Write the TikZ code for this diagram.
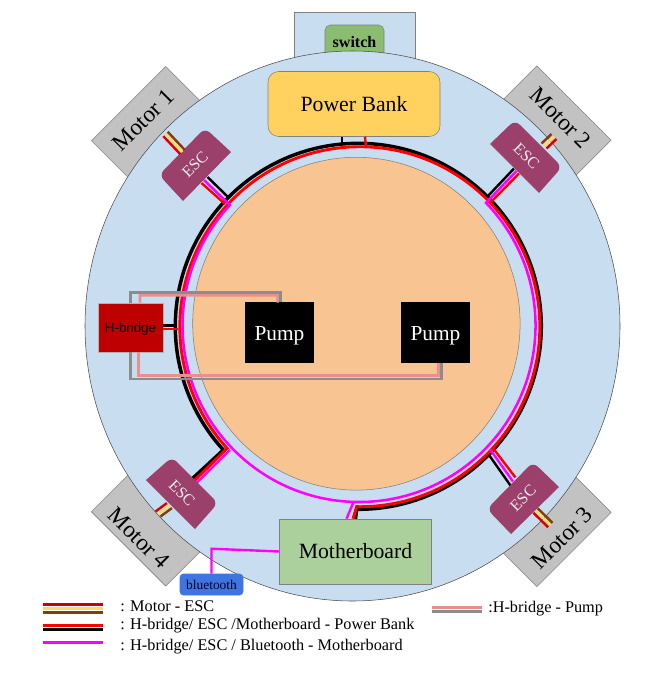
\documentclass[tikz,border=0pt]{standalone}
\usepackage{fontspec}
\setmainfont{Liberation Serif}
\newfontfamily\arialfont{Liberation Sans}
\definecolor{shell}{HTML}{C9DDF1}
\definecolor{peach}{HTML}{F8C491}
\definecolor{bankfill}{HTML}{FFD25F}
\definecolor{switchfill}{HTML}{8ABD70}
\definecolor{escfill}{HTML}{9A406B}
\definecolor{boardfill}{HTML}{ABD09C}
\definecolor{btfill}{HTML}{3E75E0}
\definecolor{wirebrown}{HTML}{7B3F10}
\definecolor{wireyellow}{HTML}{FFD966}
\definecolor{wirepink}{HTML}{E89090}
\definecolor{wiregray}{HTML}{8C8C8C}
\definecolor{magenta}{HTML}{FF00FF}
\tikzset{
    motorbox/.style={draw=gray, fill=black!24, minimum width=105*0.75pt, minimum height=52*0.75pt},
    motorlabel/.style={font=\fontsize{17.5}{20}\selectfont, inner sep=0pt},
    escbody/.style={draw=none, fill=escfill},
    esclabel/.style={font=\fontsize{12}{14}\selectfont, text=white!90!escfill, minimum width=66*0.75pt, minimum height=35*0.75pt, inner sep=0pt},
    part/.style={draw=gray, inner sep=0pt, font=\fontsize{16.3}{19}\selectfont},
    pumpbox/.style={fill=black, text=white, inner sep=0pt, minimum width=69*0.75pt, minimum height=61*0.75pt, font=\fontsize{16}{19}\selectfont},
    blackring/.style={draw=black, line width=2.6pt},
    redring/.style={draw=red, line width=2.2pt},
    blackwire/.style={draw=black, line width=1.8pt},
    redwire/.style={draw=red, line width=1.8pt},
    pinkwire/.style={draw=magenta, line width=1.8pt},
    hpink/.style={draw=wirepink, line width=1.9pt},
    hgray/.style={draw=wiregray, line width=1.9pt},
    legendlabel/.style={anchor=west, inner sep=0pt, font=\fontsize{12.2}{14}\selectfont},
}
% three leads of a motor: esc end, motor end, offset of the brown lead
\newcommand{\motorleads}[4]{
    \draw[draw=wirebrown, line width=1.8pt] ([shift={(#3,#4)}]#1) -- ([shift={(#3,#4)}]#2);
    \draw[draw=wireyellow, line width=1.8pt] (#1) -- (#2);
    \draw[draw=red!85!black, line width=1.8pt] ([shift={(-#3,-#4)}]#1) -- ([shift={(-#3,-#4)}]#2);
}
\begin{document}
\begin{tikzpicture}[x=0.75pt, y=-0.75pt]
    \useasboundingbox (0,0) rectangle (671,675);
    % switch housing
    \draw[draw=gray, fill=shell] (294,60) -- (294,12) -- (415,12) -- (415,60);
    \node[part, rounded corners=4pt, fill=switchfill, minimum width=59*0.75pt, minimum height=35*0.75pt, font=\fontsize{12}{14}\selectfont\bfseries] (switch) at (354.5,42.5) {switch};
    % motors
    \node[motorbox, rotate=45] (motor1) at (147,122) {};
    \node[motorbox, rotate=-45] (motor2) at (555.6,121.4) {};
    \node[motorbox, rotate=45] (motor3) at (555.6,531) {};
    \node[motorbox, rotate=-45] (motor4) at (147,530.6) {};
    \node[motorlabel, rotate=45] at (143.3,120) {Motor 1};
    \node[motorlabel, rotate=-45] at (560.7,118) {Motor 2};
    \node[motorlabel, rotate=45] at (562,538) {Motor 3};
    \node[motorlabel, rotate=-45] at (139,538) {Motor 4};
    % body
    \draw[draw=black!70, fill=shell] (352.5,326) ellipse [x radius=267.5, y radius=275];
    \draw[draw=gray, fill=peach] (356.4,323.7) ellipse [x radius=163.7, y radius=166.4];
    % parts
    \node[part, rounded corners=8pt, fill=bankfill, minimum width=172*0.75pt, minimum height=65*0.75pt] (bank) at (354,104) {Power Bank};
    \node[part, fill=boardfill, minimum width=152*0.75pt, minimum height=65*0.75pt] (board) at (355.5,551.5) {\raisebox{-5.6pt}[0pt][0pt]{Motherboard}};
    \node[draw=gray!60, fill=red!75!black, inner sep=0pt, minimum width=65*0.75pt, minimum height=49*0.75pt, font=\arialfont\fontsize{10}{12}\selectfont] (hbridge) at (130.5,327.5) {\raisebox{-4pt}[0pt][0pt]{H-bridge}};
    \node[part, rounded corners=2.5pt, draw=btfill, fill=btfill, minimum width=63*0.75pt, minimum height=21*0.75pt, font=\fontsize{10.1}{12}\selectfont, text=black!85!blue] (bluetooth) at (211.5,584.5) {bluetooth};
    \node[esclabel, rotate=45] (esc1) at (195,164.5) {};
    \node[esclabel, rotate=-45] (esc2) at (526.5,156) {};
    \node[esclabel, rotate=45] (esc3) at (523,498) {};
    \node[esclabel, rotate=-45] (esc4) at (182,493) {};
    % ring ends
    \coordinate (b1) at (228,197);
    \coordinate (r1) at (225,204);
    \coordinate (b2) at (488,196);
    \coordinate (r2) at (491,202);
    \coordinate (b3) at (489,455);
    \coordinate (r3) at (493,448);
    % black and red rings
    \draw[blackring] (board.north) -- (356.7,509.3) arc [start angle=90.5, end angle=-222.5, radius=183] -- ([shift={(-2,-2)}]esc4.north);
    \draw[redring] ([shift={(-2.5,0)}]board.north) -- (356.7,506.7) arc [start angle=91, end angle=-222.5, radius=180] -- (esc4.north);
    \draw[blackwire] (esc1.south) -- (b1);
    \draw[redwire] ([shift={(-6,6)}]esc1.south) -- (r1);
    \draw[blackwire] (esc2.south) -- (b2);
    \draw[redwire] ([shift={(5,5)}]esc2.south) -- (r2);
    \draw[blackwire] (esc3.north) -- (b3);
    \draw[redwire] ([shift={(5,-8)}]esc3.north) -- (r3);
    \draw[blackwire] ([shift={(-12,0)}]bank.south) -- ++(0,8);
    \draw[redwire] ([shift={(11,0)}]bank.south) -- ++(1,11);
    \draw[blackwire] ([shift={(0,-2)}]hbridge.east) -- ++(12,0);
    \draw[redwire] ([shift={(0,1.5)}]hbridge.east) -- ++(15,0);
    % magenta ring
    \draw[pinkwire, line width=1.9pt] ([shift={(2.5,2.5)}]esc2.south) -- (486,202.9) arc [start angle=-44, end angle=223, radius=176.5] -- ([shift={(-3.5,3)}]esc1.south);
    \draw[pinkwire] ([shift={(2.5,-4)}]esc3.north) -- (490,449.3);
    \draw[pinkwire] ([shift={(2.5,2)}]esc4.north) -- (230,450);
    \draw[pinkwire] ([shift={(-9,0)}]board.north) -- (353.3,502.7);
    \draw[pinkwire] (bluetooth.north) -- ++(0,-25) -- (board.west);
    % esc bodies
    \draw[escbody] (231,152) [rounded corners=5pt] -- (205,128) -- (159,175) [sharp corners] -- (183,201) -- cycle;
    \draw[escbody] (490,144) [rounded corners=5pt] -- (515,120) -- (562,167) [sharp corners] -- (539,193) -- cycle;
    \draw[escbody] (559,487) [rounded corners=5pt] -- (533,462) -- (487,509) [sharp corners] -- (511,534) -- cycle;
    \draw[escbody] (146,480) [rounded corners=5pt] -- (172,457) -- (218,503) [sharp corners] -- (195,529) -- cycle;
    \node[esclabel, rotate=45] at (esc1) {ESC};
    \node[esclabel, rotate=-45] at (esc2) {ESC};
    \node[esclabel, rotate=45] at (esc3) {ESC};
    \node[esclabel, rotate=-45] at (esc4) {ESC};
    % motor leads
    \coordinate (m1) at (165.5,134);
    \coordinate (m2) at (554,136.5);
    \coordinate (m3) at (550.3,525);
    \coordinate (m4) at (158,514);
    \coordinate (e2) at (544,146);
    \motorleads{esc1.north}{m1}{2.2}{-2.2}
    \motorleads{e2}{m2}{-2.5}{-2.5}
    \motorleads{esc3.south}{m3}{2.2}{-2.2}
    \motorleads{esc4.south}{m4}{2.5}{2.5}
    % pumps
    \node[pumpbox] (pump1) at (279.5,332.5) {\raisebox{-6pt}[0pt][0pt]{Pump}};
    \node[pumpbox] (pump2) at (435.5,332.5) {\raisebox{-6pt}[0pt][0pt]{Pump}};
    \draw[hgray] (hbridge.north) |- (280.7,292.7) -- ([shift={(1.2,0)}]pump1.north);
    \draw[hpink] ([shift={(9.5,0)}]hbridge.north) |- (277.7,295.3) -- ([shift={(-1.8,1)}]pump1.north);
    \draw[hgray] (hbridge.south) |- (441.7,379) -- ([shift={(6.2,0)}]pump2.south);
    \draw[hpink] ([shift={(8,0)}]hbridge.south) |- (438.3,375.7) -- ([shift={(2.8,0)}]pump2.south);
    % legend
    \node[legendlabel] (leg1) at (120,606) {: Motor - ESC};
    \node[legendlabel] (leg2) at (120,626) {: H-bridge/ ESC /Motherboard - Power Bank};
    \node[legendlabel] (leg3) at (120,647) {: H-bridge/ ESC / Bluetooth - Motherboard};
    \node[legendlabel] (leg4) at (488,609) {:H-bridge - Pump};
    \coordinate (ka) at (43,608.5);
    \coordinate (kb) at (103,608.5);
    \coordinate (kc) at (432,607.5);
    \coordinate (kd) at (482,607.5);
    \draw[draw=red!80!black, line width=2.2pt] ([shift={(0,-4)}]ka) -- ([shift={(0,-4)}]kb);
    \draw[draw=wireyellow, line width=2.2pt] (ka) -- (kb);
    \draw[draw=wirebrown, line width=2.2pt] ([shift={(0,4.2)}]ka) -- ([shift={(0,4.2)}]kb);
    \draw[draw=red, line width=2.4pt] ([shift={(0,17.2)}]ka) -- ([shift={(0,17.2)}]kb);
    \draw[draw=black, line width=2.4pt] ([shift={(0,20.8)}]ka) -- ([shift={(0,20.8)}]kb);
    \draw[draw=magenta, line width=1.9pt] ([shift={(0,34.2)}]ka) -- ([shift={(0,34.2)}]kb);
    \draw[draw=wirepink, line width=2.2pt] (kc) -- (kd);
    \draw[draw=wiregray, line width=2.2pt] ([shift={(0,4)}]kc) -- ([shift={(0,4)}]kd);
\end{tikzpicture}
\end{document}
